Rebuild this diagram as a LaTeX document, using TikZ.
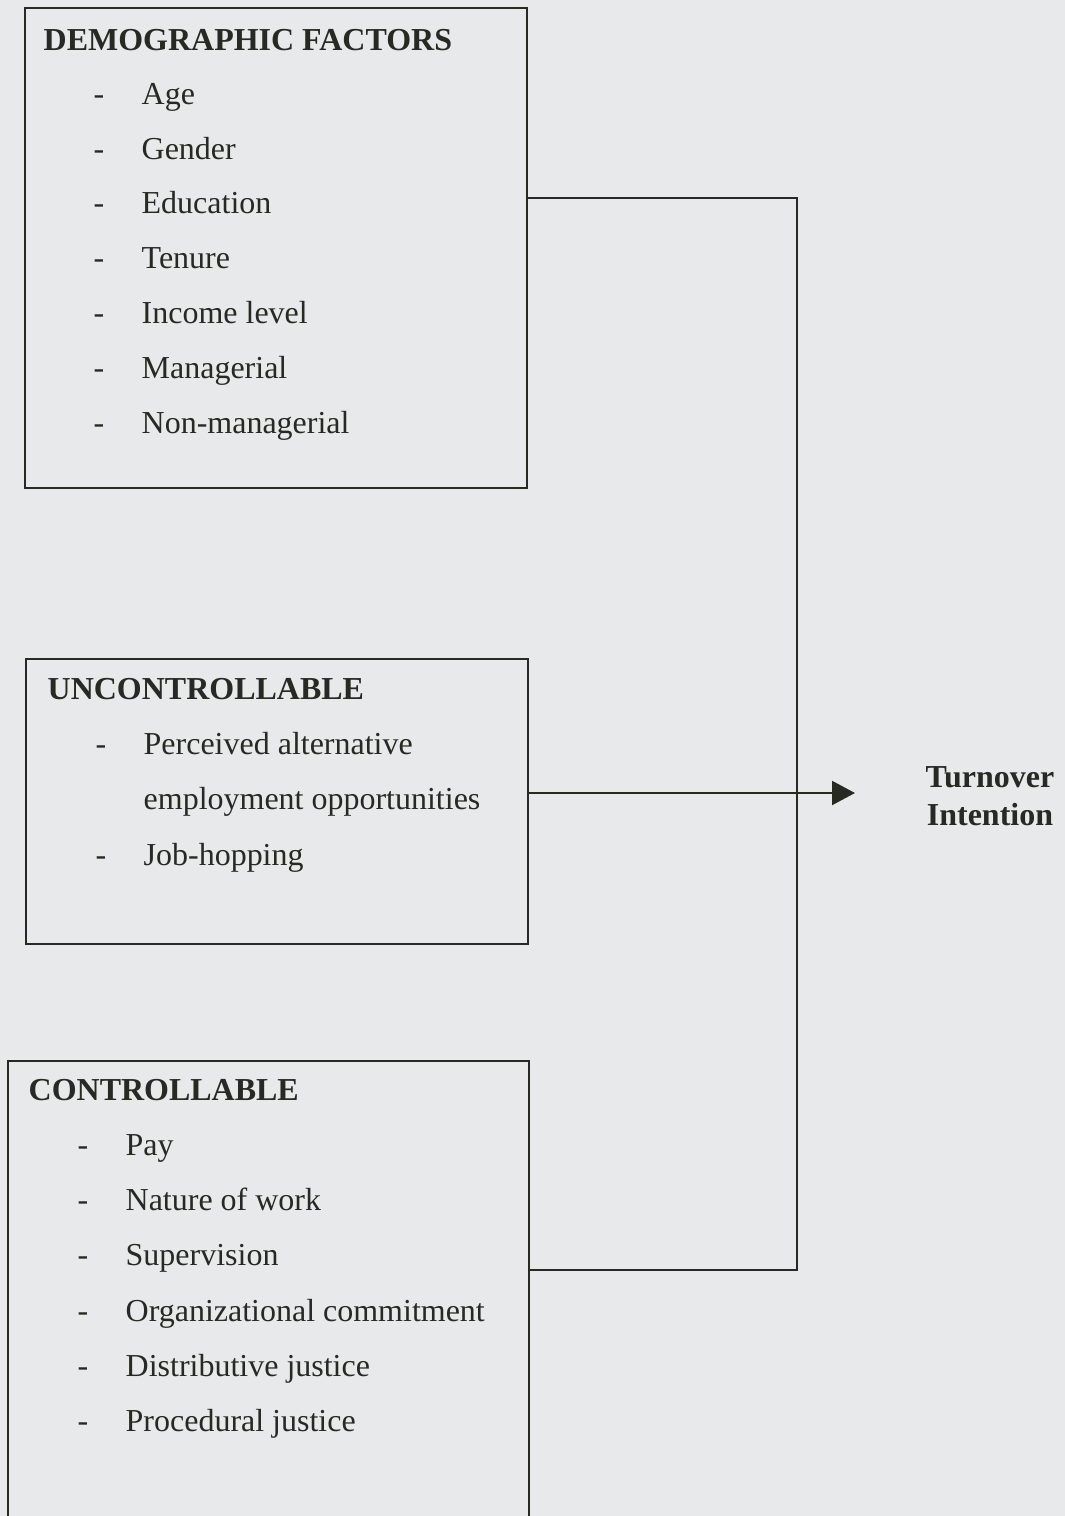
\documentclass[tikz,border=0pt]{standalone}
\usepackage{fontspec}
\setmainfont{Liberation Serif}
\usetikzlibrary{arrows.meta}
\definecolor{paper}{RGB}{232,233,235}
\definecolor{ink}{RGB}{38,42,34}
\tikzset{
    every node/.style={inner sep=0mm, text=ink, font=\fontsize{9.1}{10.8}\selectfont},
    box/.style={draw=ink, line width=0.6pt, anchor=north west},
    head/.style={anchor=base west, font=\fontsize{9.1}{10.8}\selectfont\bfseries},
    item/.style={anchor=base west},
    wire/.style={draw=ink, line width=0.6pt}
}

\begin{document}
\begin{tikzpicture}[x=0.1mm, y=-0.1mm]
    \fill[paper] (0,0) rectangle (1065,1516);
    \clip (0,0) rectangle (1065,1516);

    % demographic factors
    \node (demo) [box, minimum width=50.2mm, minimum height=48mm] at (24,7) {};
    \node (dh) [head] at (43,50) {DEMOGRAPHIC FACTORS};
    \node (dd1) [item] at (93,104) {-};
    \node (d1) [item] at (141,104) {Age};
    \node (dd2) [item] at (93,159) {-};
    \node (d2) [item] at (141,159) {Gender};
    \node (dd3) [item] at (93,213) {-};
    \node (d3) [item] at (141,213) {Education};
    \node (dd4) [item] at (93,268) {-};
    \node (d4) [item] at (141,268) {Tenure};
    \node (dd5) [item] at (93,323) {-};
    \node (d5) [item] at (141,323) {Income level};
    \node (dd6) [item] at (93,378) {-};
    \node (d6) [item] at (141,378) {Managerial};
    \node (dd7) [item] at (93,433) {-};
    \node (d7) [item] at (141,433) {Non-managerial};

    % uncontrollable
    \node (unc) [box, minimum width=50.2mm, minimum height=28.5mm] at (25,658) {};
    \node (uh) [head] at (47,699) {UNCONTROLLABLE};
    \node (ud1) [item] at (95,754) {-};
    \node (u1) [item] at (143,754) {Perceived alternative};
    \node (u1b) [item] at (143,809) {employment opportunities};
    \node (ud2) [item] at (95,865) {-};
    \node (u2) [item] at (143,865) {Job-hopping};

    % controllable
    \node (ctrl) [box, minimum width=52.1mm, minimum height=50mm] at (7,1060) {};
    \node (ch) [head] at (28,1100) {CONTROLLABLE};
    \node (cd1) [item] at (77,1155) {-};
    \node (c1) [item] at (125,1155) {Pay};
    \node (cd2) [item] at (77,1210) {-};
    \node (c2) [item] at (125,1210) {Nature of work};
    \node (cd3) [item] at (77,1265) {-};
    \node (c3) [item] at (125,1265) {Supervision};
    \node (cd4) [item] at (77,1321) {-};
    \node (c4) [item] at (125,1321) {Organizational commitment};
    \node (cd5) [item] at (77,1376) {-};
    \node (c5) [item] at (125,1376) {Distributive justice};
    \node (cd6) [item] at (77,1431) {-};
    \node (c6) [item] at (125,1431) {Procedural justice};

    % outcome
    \node (turn) [align=center, font=\fontsize{9.1}{10.8}\selectfont\bfseries] at (990,796) {Turnover\\Intention};

    \coordinate (j1) at (797,198);
    \coordinate (j2) at (797,1270);
    \coordinate (tip) at (855,793);

    \draw[wire] (demo.east |- j1) -- (j1) -- (j2) -- (ctrl.east |- j2);
    \draw[wire, -{Triangle[length=2.3mm, width=2.4mm]}] (unc.east |- tip) -- (tip);
\end{tikzpicture}
\end{document}
